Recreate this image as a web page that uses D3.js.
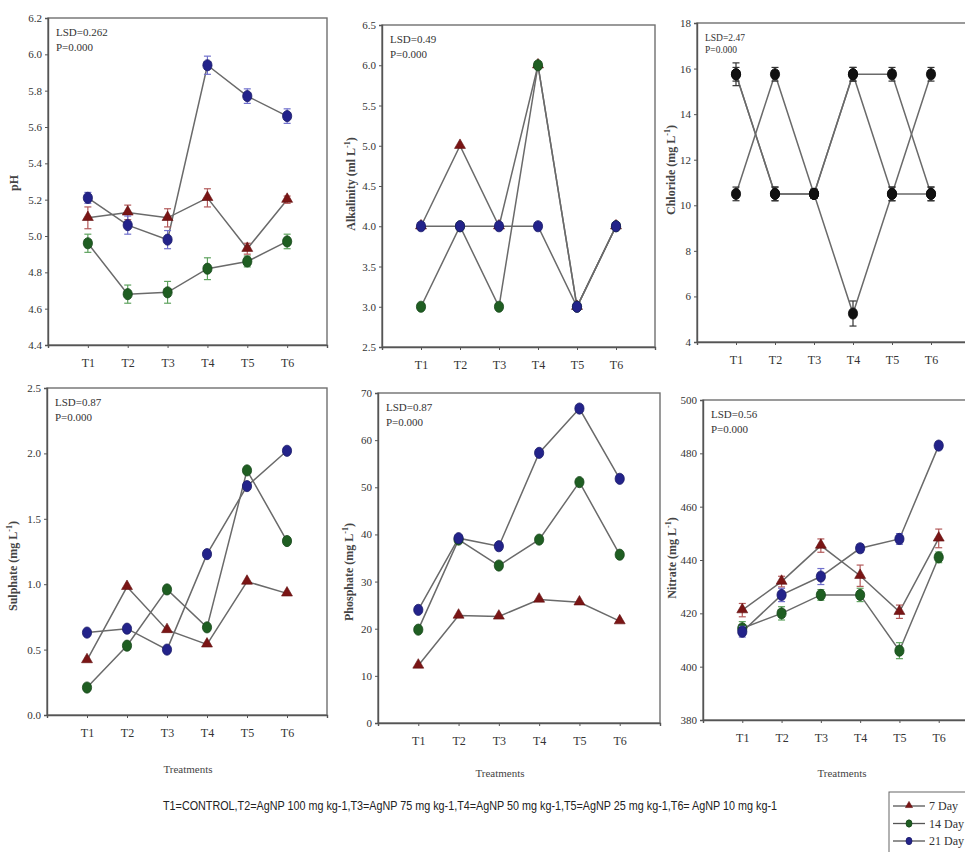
<!DOCTYPE html>
<html>
<head>
<meta charset="utf-8">
<script src="https://cdn.jsdelivr.net/npm/d3@7"></script>
<style>
  body { margin: 0; background: #fff; }
  svg { display: block; }
</style>
</head>
<body>
<div id="chart"></div>
<script>
// treatments and series
const treatments = ["T1", "T2", "T3", "T4", "T5", "T6"];
const seriesNames = ["7 Day", "14 Day", "21 Day"];

// pH
const phDay7  = [5.10, 5.13, 5.10, 5.21, 4.93, 5.20];
const phDay14 = [4.96, 4.68, 4.69, 4.82, 4.86, 4.97];
const phDay21 = [5.21, 5.06, 4.98, 5.94, 5.77, 5.66];
const phErr7  = [0.06, 0.04, 0.05, 0.05, 0.03, 0.02];
const phErr14 = [0.05, 0.05, 0.06, 0.06, 0.03, 0.04];
const phErr21 = [0.03, 0.05, 0.05, 0.05, 0.04, 0.04];

// alkalinity
const alkDay7  = [4, 5, 4, 6, 3, 4];
const alkDay14 = [3, 4, 3, 6, 3, 4];
const alkDay21 = [4, 4, 4, 4, 3, 4];

// chloride
const clDay7  = [15.75, 10.5, 10.5, 15.75, 15.75, 10.5];
const clDay14 = [10.5, 15.75, 10.5, 5.25, 10.5, 15.75];
const clDay21 = [15.75, 10.5, 10.5, 15.75, 10.5, 10.5];
const clErr7  = [0.5, 0.3, 0.2, 0.3, 0.3, 0.3];
const clErr14 = [0.3, 0.3, 0.2, 0.55, 0.3, 0.3];
const clErr21 = [0.3, 0.3, 0.2, 0.3, 0.3, 0.3];

// sulphate
const so4Day7  = [0.42, 0.98, 0.65, 0.54, 1.02, 0.93];
const so4Day14 = [0.21, 0.53, 0.96, 0.67, 1.87, 1.33];
const so4Day21 = [0.63, 0.66, 0.50, 1.23, 1.75, 2.02];

// phosphate
const po4Day7  = [12.2, 22.8, 22.6, 26.2, 25.6, 21.6];
const po4Day14 = [19.8, 38.9, 33.4, 38.9, 51.1, 35.7];
const po4Day21 = [24.0, 39.2, 37.5, 57.3, 66.7, 51.8];

// nitrate
const no3Day7  = [421.2, 431.9, 445.4, 434.1, 420.6, 448.1];
const no3Day14 = [414.4, 420.0, 426.9, 426.9, 406.0, 441.0];
const no3Day21 = [413.1, 426.9, 433.8, 444.4, 447.9, 482.9];
const no3Err7  = [2.5, 2.0, 2.5, 4.0, 2.5, 3.5];
const no3Err14 = [2.5, 2.5, 2.0, 2.5, 3.0, 2.0];
const no3Err21 = [2.0, 2.5, 3.0, 1.5, 2.0, 1.5];

const noErr = [0, 0, 0, 0, 0, 0];

const footnote = "T1=CONTROL,T2=AgNP 100 mg kg-1,T3=AgNP 75 mg kg-1,T4=AgNP 50 mg kg-1,T5=AgNP 25 mg kg-1,T6= AgNP 10 mg kg-1";

const width = 965, height = 852;

const markColor = ["#7a1515", "#1f5e22", "#23238a"];
const errColor = ["#b35a5a", "#5fa35f", "#7070cc"];
const lineColor = "#6a6a6a";
const serif = "Liberation Serif, serif";

const panels = [
  { label: "pH", unit: false, lsd: "LSD=0.262", box: [48, 18, 327, 345], yDomain: [4.4, 6.2], step: 0.2, fmt: ".1f",
    vals: [phDay7, phDay14, phDay21], errs: [phErr7, phErr14, phErr21], titleX: 15, titleY: 183, treat: null },
  { label: "Alkalinity (ml L", unit: true, lsd: "LSD=0.49", box: [382, 25, 655, 347], yDomain: [2.5, 6.5], step: 0.5, fmt: ".1f",
    vals: [alkDay7, alkDay14, alkDay21], errs: [noErr, noErr, noErr], titleX: 352, titleY: 184, treat: null },
  { label: "Chloride (mg L", unit: true, lsd: "LSD=2.47", box: [697, 23, 970, 342], yDomain: [4, 18], step: 2, fmt: "d",
    vals: [clDay7, clDay14, clDay21], errs: [clErr7, clErr14, clErr21], titleX: 672, titleY: 170, treat: null, mono: true, small: true },
  { label: "Sulphate (mg L", unit: true, lsd: "LSD=0.87", box: [47, 388, 327, 715], yDomain: [0, 2.5], step: 0.5, fmt: ".1f",
    vals: [so4Day7, so4Day14, so4Day21], errs: [noErr, noErr, noErr], titleX: 14, titleY: 566, treat: [188, 773] },
  { label: "Phosphate (mg L", unit: true, lsd: "LSD=0.87", box: [378, 393, 660, 723], yDomain: [0, 70], step: 10, fmt: "d",
    vals: [po4Day7, po4Day14, po4Day21], errs: [noErr, noErr, noErr], titleX: 350, titleY: 572, treat: [500, 777] },
  { label: "Nitrate (mg L", unit: true, lsd: "LSD=0.56", box: [703, 400, 978, 720], yDomain: [380, 500], step: 20, fmt: "d",
    vals: [no3Day7, no3Day14, no3Day21], errs: [no3Err7, no3Err14, no3Err21], titleX: 673, titleY: 558, treat: [842, 777] }
];

const svg = d3.select("#chart").append("svg")
  .attr("width", width)
  .attr("height", height);

function drawMarker(g, type, x, y, fill, k) {
  k = k || 1;
  if (type === 0) {
    g.append("path")
      .attr("d", d3.symbol(d3.symbolTriangle).size(52 * k * k)())
      .attr("transform", "translate(" + x + "," + (y - 0.5) + ")")
      .attr("fill", fill)
      .attr("stroke", d3.color(fill).darker(0.6))
      .attr("stroke-width", 0.6);
  } else {
    g.append("ellipse")
      .attr("cx", x).attr("cy", y)
      .attr("rx", 4.6 * k).attr("ry", 5.6 * k)
      .attr("fill", fill)
      .attr("stroke", d3.color(fill).darker(0.8))
      .attr("stroke-width", 0.8);
  }
}

panels.forEach(function(p) {
  const [x0, y0, x1, y1] = p.box;
  const x = d3.scaleLinear().domain([0, 7]).range([x0, x1]);
  const y = d3.scaleLinear().domain(p.yDomain).range([y1, y0]);
  const g = svg.append("g");

  // frame
  g.append("rect")
    .attr("x", x0).attr("y", y0)
    .attr("width", x1 - x0).attr("height", y1 - y0)
    .attr("fill", "none")
    .attr("stroke", "#707070")
    .attr("stroke-width", 1.4);

  const yTicks = d3.range(p.yDomain[0], p.yDomain[1] + p.step / 2, p.step);
  const yAxis = g.append("g")
    .attr("transform", "translate(" + x0 + ",0)")
    .call(d3.axisLeft(y).tickValues(yTicks).tickFormat(d3.format(p.fmt)).tickSize(3).tickPadding(3));
  yAxis.select(".domain").attr("stroke", "#555").attr("stroke-width", 1.4);
  yAxis.selectAll(".tick line").attr("stroke", "#555");
  yAxis.selectAll(".tick text")
    .style("font-family", serif).style("font-size", "11px").attr("fill", "#333");

  const xAxis = g.append("g")
    .attr("transform", "translate(0," + y1 + ")")
    .call(d3.axisBottom(x).tickValues([1, 2, 3, 4, 5, 6])
      .tickFormat(function(d) { return treatments[d - 1]; }).tickSize(3).tickPadding(10));
  xAxis.select(".domain").attr("stroke", "#555").attr("stroke-width", 1.4);
  xAxis.selectAll(".tick line").attr("stroke", "#555");
  xAxis.selectAll(".tick text")
    .style("font-family", serif).style("font-size", "12px").attr("fill", "#333");

  // y title
  const title = g.append("text")
    .attr("transform", "translate(" + p.titleX + "," + p.titleY + ") rotate(-90)")
    .attr("text-anchor", "middle")
    .attr("dominant-baseline", "middle")
    .style("font-family", serif)
    .style("font-weight", "bold")
    .style("font-size", "12px")
    .attr("fill", "#444")
    .text(p.label);
  if (p.unit) {
    title.append("tspan").attr("dy", -4).style("font-size", "8px").text("-1");
    title.append("tspan").attr("dy", 4).text(")");
  }

  // LSD / P
  const fs = p.small ? "9.5px" : "11px";
  g.append("text")
    .attr("x", x0 + 8).attr("y", y0 + 18)
    .style("font-family", serif)
    .style("font-size", fs)
    .attr("fill", "#333")
    .text(p.lsd);
  g.append("text")
    .attr("x", x0 + 8).attr("y", y0 + (p.small ? 30 : 33))
    .style("font-family", serif)
    .style("font-size", fs)
    .attr("fill", "#333")
    .text("P=0.000");

  // lines
  const line = d3.line()
    .x(function(d, i) { return x(i + 1); })
    .y(function(d) { return y(d); });
  p.vals.forEach(function(v) {
    g.append("path")
      .datum(v)
      .attr("d", line)
      .attr("fill", "none")
      .attr("stroke", lineColor)
      .attr("stroke-width", 1.5);
  });

  // error bars + markers
  p.vals.forEach(function(v, s) {
    const ec = p.mono ? "#333" : errColor[s];
    const mc = p.mono ? "#111" : markColor[s];
    v.forEach(function(d, i) {
      const e = p.errs[s][i];
      if (e > 0) {
        const cx = x(i + 1);
        g.append("line")
          .attr("x1", cx).attr("x2", cx)
          .attr("y1", y(d - e)).attr("y2", y(d + e))
          .attr("stroke", ec).attr("stroke-width", 1.2);
        [d - e, d + e].forEach(function(c) {
          g.append("line")
            .attr("x1", cx - 3.5).attr("x2", cx + 3.5)
            .attr("y1", y(c)).attr("y2", y(c))
            .attr("stroke", ec).attr("stroke-width", 1.2);
        });
      }
      drawMarker(g, p.mono ? 1 : s, x(i + 1), y(d), mc);
    });
  });

  if (p.treat) {
    g.append("text")
      .attr("x", p.treat[0]).attr("y", p.treat[1])
      .attr("text-anchor", "middle")
      .style("font-family", serif)
      .style("font-size", "11px")
      .attr("fill", "#444")
      .text("Treatments");
  }
});

// footnote
svg.append("text")
  .attr("x", 163).attr("y", 810)
  .attr("textLength", 614)
  .attr("lengthAdjust", "spacingAndGlyphs")
  .style("font-family", "Liberation Sans Narrow, Liberation Sans, sans-serif")
  .style("font-size", "13px")
  .attr("fill", "#222")
  .text(footnote);

// legend
const legend = svg.append("g");
legend.append("rect")
  .attr("x", 889).attr("y", 792)
  .attr("width", 90).attr("height", 62)
  .attr("fill", "#fff")
  .attr("stroke", "#666")
  .attr("stroke-width", 1);
seriesNames.forEach(function(name, i) {
  const ly = 806 + i * 17.5;
  legend.append("line")
    .attr("x1", 893).attr("x2", 925)
    .attr("y1", ly).attr("y2", ly)
    .attr("stroke", "#555").attr("stroke-width", 1.3);
  drawMarker(legend, i, 909, ly, markColor[i], 0.65);
  legend.append("text")
    .attr("x", 929).attr("y", ly + 4)
    .style("font-family", serif)
    .style("font-size", "12px")
    .attr("fill", "#333")
    .text(name);
});
</script>
</body>
</html>
